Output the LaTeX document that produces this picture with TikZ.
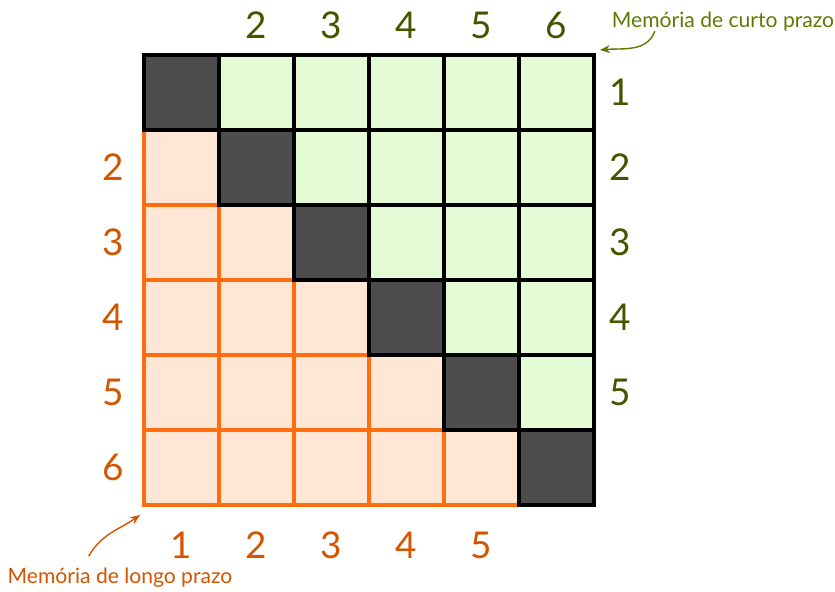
\documentclass[tikz,border=0pt]{standalone}
\usepackage{fontspec}
\setmainfont{Lato}
\setsansfont{Lato}
\usetikzlibrary{arrows.meta, positioning}
\definecolor{cdark}{HTML}{4D4D4D}
\definecolor{cgreenfill}{HTML}{E3FCD6}
\definecolor{cpeach}{HTML}{FFE6D5}
\definecolor{corange}{HTML}{FF6E0E}
\definecolor{colive}{HTML}{445500}
\definecolor{crust}{HTML}{D45500}
\definecolor{cleaf}{HTML}{5F7A00}
\tikzset{
  every picture/.style={font=\sffamily},
  cellbox/.style={minimum size=1.5cm, inner sep=0pt, outer sep=0pt},
  diag/.style={cellbox, draw=black, fill=cdark, line width=2pt},
  upper/.style={cellbox, draw=black, fill=cgreenfill, line width=2pt},
  lower/.style={cellbox, draw=corange, fill=cpeach, line width=1.8pt},
  gnum/.style={font=\fontsize{21}{25}\selectfont, text=colive},
  onum/.style={font=\fontsize{21}{25}\selectfont, text=crust},
  note/.style={font=\fontsize{12}{14}\selectfont, inner sep=1pt},
  arrow/.style={-{Stealth[length=2mm, width=1.6mm]}, line width=0.8pt},
}

\begin{document}
\begin{tikzpicture}
  \useasboundingbox (-2.88,1.10) rectangle (13.82,-10.74);
  % ---- lower triangle first, so the black borders sit on top ----
  \foreach \r in {2,...,6}
    \foreach \c in {1,...,6} {
      \ifnum\c<\r
        \node[lower] (c\r\c) at ({(\c-0.5)*1.5},{-(\r-0.5)*1.5}) {};
      \fi
    }
  % ---- diagonal and upper triangle ----
  \foreach \r in {1,...,6}
    \foreach \c in {1,...,6} {
      \ifnum\c=\r
        \node[diag] (c\r\c) at ({(\c-0.5)*1.5},{-(\r-0.5)*1.5}) {};
      \else\ifnum\c>\r
        \node[upper] (c\r\c) at ({(\c-0.5)*1.5},{-(\r-0.5)*1.5}) {};
      \fi\fi
    }
  % ---- numbers round the grid ----
  \foreach \c in {2,...,6}
    \node[gnum] (top\c) at ({(\c-0.5)*1.5},0.6) {\c};
  \foreach \r in {1,...,5}
    \node[gnum] (right\r) at (9.52,{-(\r-0.5)*1.5}) {\r};
  \foreach \r in {2,...,6}
    \node[onum] (left\r) at (-0.62,{-(\r-0.5)*1.5}) {\r};
  \foreach \c in {1,...,5}
    \node[onum] (bottom\c) at ({(\c-0.5)*1.5},-9.8) {\c};
  % ---- notes ----
  \node[note, text=cleaf] (curto) at (11.58,0.66) {Memória de curto prazo};
  \coordinate (curtoend) at (9.12,0.1);
  \draw[arrow, cleaf] ([xshift=0.9cm,yshift=0.05cm]curto.south west) to[out=-110,in=5] (curtoend);
  \node[note, text=crust] (longo) at (-0.48,-10.46) {Memória de longo prazo};
  \coordinate (longoend) at (-0.08,-9.2);
  \draw[arrow, crust] ([shift={(1.66cm,0.2cm)}]longo.north west) to[out=60,in=-145] (longoend);
\end{tikzpicture}
\end{document}
